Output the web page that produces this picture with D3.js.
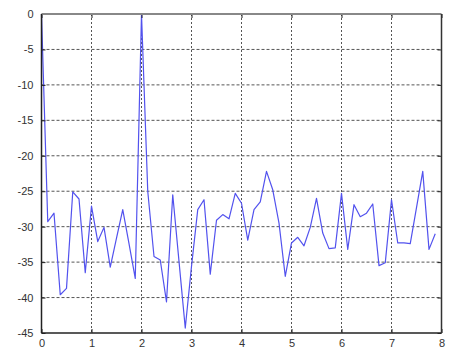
<!DOCTYPE html>
<html>
<head>
<meta charset="utf-8">
<script src="https://cdn.jsdelivr.net/npm/d3@7"></script>
<style>
  body { margin: 0; background: #fff; }
  text { font-family: "Liberation Sans", Arial, sans-serif; font-size: 11px; fill: #333; }
</style>
</head>
<body>
<div id="chart"></div>
<script>
// frequency axis samples
var freq = [0, 0.125, 0.25, 0.375, 0.5, 0.625, 0.75, 0.875,
  1, 1.125, 1.25, 1.375, 1.5, 1.625, 1.75, 1.875,
  2, 2.125, 2.25, 2.375, 2.5, 2.625, 2.75, 2.875,
  3, 3.125, 3.25, 3.375, 3.5, 3.625, 3.75, 3.875,
  4, 4.125, 4.25, 4.375, 4.5, 4.625, 4.75, 4.875,
  5, 5.125, 5.25, 5.375, 5.5, 5.625, 5.75, 5.875,
  6, 6.125, 6.25, 6.375, 6.5, 6.625, 6.75, 6.875,
  7, 7.125, 7.25, 7.375, 7.5, 7.625, 7.75, 7.875];

// magnitude (dB)
var mag = [0, -29.3, -28.1, -39.6, -38.7, -25.1, -26.1, -36.5,
  -27.1, -32.1, -30.1, -35.7, -31.6, -27.6, -32.4, -37.3,
  0, -25.0, -34.2, -34.7, -40.6, -25.5, -34.9, -44.3,
  -35.6, -27.6, -26.2, -36.7, -29.1, -28.3, -28.9, -25.3,
  -26.7, -31.9, -27.6, -26.5, -22.2, -24.8, -29.5, -37.0,
  -32.3, -31.5, -32.7, -30.1, -26.0, -30.9, -33.1, -33.0,
  -25.3, -33.2, -26.9, -28.6, -28.1, -26.8, -35.5, -35.1,
  -26.2, -32.3, -32.3, -32.4, -27.3, -22.2, -33.2, -31.0];

var xTicks = [0, 1, 2, 3, 4, 5, 6, 7, 8];
var yTicks = [0, -5, -10, -15, -20, -25, -30, -35, -40, -45];

var width = 463, height = 352;
var mLeft = 41.5, mRight = 441.5, mTop = 14, mBottom = 333;

var svg = d3.select('#chart').append('svg')
  .attr('width', width)
  .attr('height', height);

var x = d3.scaleLinear().domain([0, 8]).range([mLeft, mRight]);
var y = d3.scaleLinear().domain([-45, 0]).range([mBottom, mTop]);

// grid
svg.append('g').selectAll('line')
  .data(xTicks.slice(1, -1))
  .enter().append('line')
  .attr('x1', function(d) { return x(d); })
  .attr('x2', function(d) { return x(d); })
  .attr('y1', mTop).attr('y2', mBottom)
  .attr('stroke', '#555')
  .attr('stroke-width', 1)
  .attr('stroke-dasharray', '2,2');

svg.append('g').selectAll('line')
  .data(yTicks.slice(1, -1))
  .enter().append('line')
  .attr('y1', function(d) { return y(d); })
  .attr('y2', function(d) { return y(d); })
  .attr('x1', mLeft).attr('x2', mRight)
  .attr('stroke', '#555')
  .attr('stroke-width', 1)
  .attr('stroke-dasharray', '3,2');

// curve
var line = d3.line()
  .x(function(d, i) { return x(freq[i]); })
  .y(function(d) { return y(d); });

svg.append('path')
  .datum(mag)
  .attr('d', line)
  .attr('fill', 'none')
  .attr('stroke', '#5252ee')
  .attr('stroke-width', 1.2)
  .attr('stroke-linejoin', 'round');

// axes with inward ticks, plain hyphen for minus
var fmt = function(d) { return String(d); };
svg.append('g')
  .attr('transform', 'translate(0,' + mBottom + ')')
  .call(d3.axisBottom(x).tickValues(xTicks).tickFormat(fmt).tickSizeInner(-4).tickSizeOuter(0).tickPadding(6));
svg.append('g')
  .attr('transform', 'translate(' + mLeft + ',0)')
  .call(d3.axisLeft(y).tickValues(yTicks).tickFormat(fmt).tickSizeInner(-4).tickSizeOuter(0).tickPadding(8));
svg.append('g')
  .attr('transform', 'translate(' + mRight + ',0)')
  .call(d3.axisRight(y).tickValues(yTicks).tickSizeInner(-4).tickSizeOuter(0).tickFormat(''));
svg.append('g')
  .attr('transform', 'translate(0,' + mTop + ')')
  .call(d3.axisTop(x).tickValues(xTicks).tickSizeInner(-4).tickSizeOuter(0).tickFormat(''));

svg.selectAll('.domain').remove();
svg.selectAll('.tick line').attr('stroke', '#222');
svg.selectAll('.tick text').attr('fill', '#333').style('font-size', '11px')
  .style('font-family', '"Liberation Sans", Arial, sans-serif');

// frame
svg.append('line').attr('x1', mLeft).attr('x2', mRight).attr('y1', mTop).attr('y2', mTop)
  .attr('stroke', '#888').attr('stroke-width', 2);
svg.append('line').attr('x1', mLeft).attr('x2', mRight).attr('y1', mBottom).attr('y2', mBottom)
  .attr('stroke', '#222').attr('stroke-width', 1.5);
svg.append('line').attr('x1', mLeft).attr('x2', mLeft).attr('y1', mTop).attr('y2', mBottom)
  .attr('stroke', '#222').attr('stroke-width', 1.5);
svg.append('line').attr('x1', mRight).attr('x2', mRight).attr('y1', mTop).attr('y2', mBottom)
  .attr('stroke', '#333').attr('stroke-width', 1.5);
</script>
</body>
</html>
